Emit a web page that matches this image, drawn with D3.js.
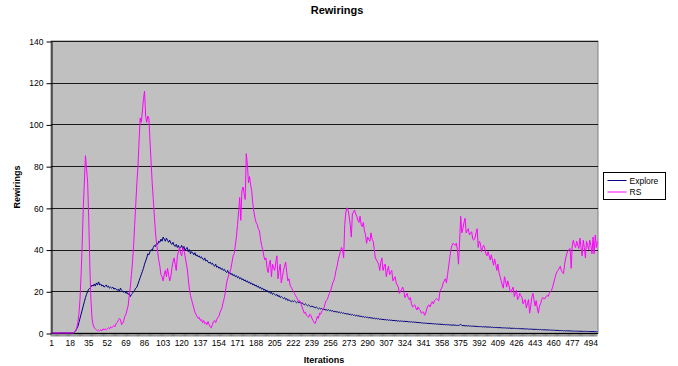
<!DOCTYPE html>
<html>
<head>
<meta charset="utf-8">
<script src="https://cdn.jsdelivr.net/npm/d3@7/dist/d3.min.js"></script>
<style>
  html, body { margin: 0; padding: 0; background: #ffffff; }
  svg { display: block; }
  text { font-family: "Liberation Sans", Arial, sans-serif; fill: #000; }
</style>
</head>
<body>
<svg id="chart" width="678" height="366"></svg>
<script>
// Iteration numbers along the category axis
const iterations = d3.range(1, 501);
// Iterations that carry a printed label
const tickLabels = [1, 18, 35, 52, 69, 86, 103, 120, 137, 154, 171, 188, 205, 222, 239, 256, 273,
  290, 307, 324, 341, 358, 375, 392, 409, 426, 443, 460, 477, 494];
const yTicks = [0, 20, 40, 60, 80, 100, 120, 140];
const seriesNames = ["Explore", "RS"];

// Rewirings per iteration, Explore strategy
const explore = [
  0,0,0,0,0,0,0,0,0,0,
  0,0,0,0,0,0,0,0,0,0,
  0,0.5,1,2,3,5,7,9,11,13,
  15,17,18.5,20,21,21.5,22,23,22.5,23.5,
  22.5,24,23,24.5,23,23.5,22.5,23,22,22.5,
  23,22,22.5,21.5,22,21.5,22,21,21.5,21,
  20.5,21,20,21.5,20.5,20,19.5,20,19,19.5,
  18.5,19,17.5,18.5,19,20,20.5,21.5,22,23.5,
  25,26.5,28,29.5,31,33,34.5,36,38,37.5,
  39,40,39.5,41,42,41.5,43,42.5,44,43.5,
  45,44,46,45,44,45.5,44.5,43.5,44.5,43,
  42.5,43.5,42,41.5,42.5,41,42,40.5,41,42,
  40,41.5,39.5,40.5,41,39,40,38,39,38.5,
  37.5,38.5,37,37.5,36.5,37,36,36.5,35.5,35,
  36,34.5,35,34,33.5,34,33,33.5,32.5,32,
  33,31.5,32,31,31.5,30.5,31,30,30.5,29.5,
  29,30,28.5,29,28,28.5,27.5,28,27,27.5,
  26.5,27,26,26.5,25.5,26,25,25.5,24.5,25,
  24,24.5,23.5,24,23,23.5,22.5,23,22,22.5,
  21.5,22,21,21.5,20.5,21,20,20.5,19.5,20,
  19,19.5,18.5,19,18.5,18,18.5,17.5,18,17,
  17.5,17,16.5,17,16,16.5,15.5,16,15.5,15,
  15.5,15,15.5,15,14.5,15,14.5,14.8,14.2,14.5,
  14,13.5,14,13.5,13,13.5,13,12.5,13,12.5,
  12.5,12,12.5,12,11.5,12,11.5,11.8,11.2,11.5,
  11,11.3,10.8,11.2,10.7,11,10.4,10.7,10.2,10.5,
  10,10.3,9.8,10.1,9.6,9.9,9.4,9.7,9.2,9.4,
  9,9.3,8.8,9.1,8.6,8.9,8.4,8.7,8.2,8.5,
  8.1,8.3,7.9,8.1,7.7,7.9,7.5,7.8,7.4,7.6,
  7.2,7.5,7.1,7.3,6.9,7.2,6.8,7,6.7,6.9,
  6.5,6.8,6.4,6.6,6.3,6.5,6.2,6.4,6.1,6.3,
  6,6.2,5.9,6.1,5.8,6,5.7,5.9,5.6,5.8,
  5.6,5.7,5.5,5.7,5.4,5.6,5.3,5.5,5.2,5.4,
  5.2,5.3,5.1,5.2,5,5.1,4.9,5,4.8,4.9,
  4.7,4.8,4.6,4.7,4.5,4.7,4.4,4.6,4.4,4.5,
  4.3,4.4,4.2,4.4,4.1,4.3,4.1,4.2,4,4.1,
  3.9,4.1,3.9,4,3.8,3.9,3.7,3.9,3.7,3.8,
  3.6,3.7,3.6,3.8,4.2,3.6,3.5,3.6,3.4,3.5,
  3.4,3.5,3.3,3.4,3.2,3.3,3.2,3.3,3.1,3.2,
  3,3.1,3,3.1,2.9,3,2.9,3,2.8,2.9,
  2.8,2.9,2.7,2.8,2.6,2.7,2.6,2.7,2.5,2.6,
  2.5,2.6,2.4,2.5,2.4,2.5,2.3,2.4,2.3,2.4,
  2.2,2.3,2.2,2.3,2.1,2.2,2.1,2.2,2,2.1,
  2,2.1,1.9,2,1.9,2,1.8,1.9,1.8,1.9,
  1.7,1.8,1.7,1.8,1.6,1.7,1.6,1.7,1.5,1.6,
  1.5,1.6,1.4,1.5,1.4,1.5,1.3,1.4,1.3,1.4,
  1.2,1.3,1.2,1.3,1.1,1.2,1.1,1.2,1,1.1,
  1,1.1,1,1.05,0.95,1,0.9,0.95,0.85,0.9,
  0.85,0.9,0.8,0.85,0.8,0.85,0.75,0.8,0.75,0.8,
  0.7,0.75,0.7,0.75,0.65,0.7,0.65,0.7,0.6,0.65
];

// Rewirings per iteration, RS strategy
const rs = [
  0,0,0,0,0,0,0,0,0,0,
  0,0,0,0,0,0,0,0,0,0,
  0,0.5,1,2.5,5,9,16,28,42,60,
  72,85,79,72,55,32,16,7,4,2.5,
  2,1.5,1,1.5,1,1.5,1,2,1.5,2,
  1.5,2,2.5,2,3,2.5,3,3.5,3,4.5,
  5,6,7,6.5,4,4.5,6,8,9,11,
  13,18,22,28,34,42,52,62,72,80,
  92,103,101,106,112,116,104,101,104,103,
  92,82,72,64,56,48,43,39,35,32,
  28,27,25,28,30,27,31,28,25,27,
  31,34,36,33,30,37,39,41,38,37,
  41,40,37,34,31,26,21,18,16,14,
  12,10,9,8,7,7.5,6,6.5,5,6,
  4.5,5,4,5.5,4,3,2.5,4,5.5,6,
  5,6.5,7.5,8,10,11,12.5,15,17,20,
  24,26,28,29,31,34,37,38,42,46,
  52,58,65,54,68,70,67,64,86,81,
  72,75,71,68,62,58,55,53,52,50,
  49,45,42,40,37,35,36,31,29,33,
  35,27,33,31,30,34,37,26,30,33,
  24,27,30,32,34,29,25,26,23,22,
  21,20,19,18,17,16,15,15.5,14,12.5,
  11,9.5,10,8.5,8,7.5,9,8.5,7,6,
  5,4.5,6,8,7,9.5,9,10.5,11,12,
  14,15.5,16,17.5,19,20,22,24,25,27,
  30,32,35,37,39,41,40,36,52,58,
  60,59,56,52,46,57,58,59,57,56,
  54,53,56,52,51,53,49,47,43,46,
  45,44,48,45,44,40,36,35,34,33,
  30,34,36,30,32,33,27,30,32,28,
  29,30,25,26,27,24,23,22,19,20,
  21,22,20,17,18,19,17,16,17,14,
  12.5,13,13.5,12,11,12.5,11.5,11,9.5,10,
  10,8.5,9.5,11.5,13,13.5,12.5,14,15,14,
  15.5,16,16.5,16,15.5,20,21,22,24,25,
  26,24,28,32,36,40,42,43,42.5,42,
  43,40,33,44,56,48,50,53,55,48,
  49,50,47,48,48.5,45,44.5,45.5,48,50,
  41,44,43,39,41,42,40.5,38,37,39,
  37,35,37.5,35,32.5,35.5,33,30,33,29,
  27,25,23,21.5,27,25,22,25,23,20.5,
  19.5,21,22,17.5,19,20.5,16,17,19,18,
  17,14,15,16,12,14,16,9.5,13,17,
  19,16,13,15.5,12,9.5,13,14,16,17,
  16.5,16.5,17.5,18,17.5,19,20,20.5,22,24,
  26,28,29.5,30,31,32,30,29,28.5,33,
  36,38,39.5,40,40.5,31,42,44.5,42,41,
  44,42,40.5,45.5,41,37,44.5,41,36,44,
  42,40,44.5,42,38,46,38,47,41,44
];

const svg = d3.select("#chart");
const plot = { left: 51, right: 598, top: 41, bottom: 333 };

const x = d3.scaleBand().domain(iterations).range([plot.left, plot.right]).padding(0);
const y = d3.scaleLinear().domain([0, 140]).range([plot.bottom, plot.top]);
const color = d3.scaleOrdinal().domain(seriesNames).range(["#000080", "#ff00ff"]);

// Plot area background
svg.append("rect")
  .attr("x", plot.left).attr("y", plot.top)
  .attr("width", plot.right - plot.left).attr("height", plot.bottom - plot.top)
  .attr("fill", "#c0c0c0").attr("stroke", "#808080").attr("stroke-width", 1);

// Horizontal gridlines
svg.append("g")
  .selectAll("line")
  .data(yTicks.filter(d => d > 0))
  .join("line")
  .attr("x1", plot.left).attr("x2", plot.right)
  .attr("y1", d => Math.round(y(d)) + 0.5).attr("y2", d => Math.round(y(d)) + 0.5)
  .attr("stroke", "#1a1a1a").attr("stroke-width", 1);

// Value axis
const yAxis = svg.append("g")
  .attr("transform", `translate(${plot.left + 0.5},0.5)`)
  .call(d3.axisLeft(y).tickValues(yTicks).tickSize(5).tickPadding(3).tickSizeOuter(0));
yAxis.select(".domain").attr("stroke", "#000");
yAxis.selectAll(".tick line").attr("stroke", "#000");
yAxis.selectAll("text")
  .attr("font-family", "Liberation Sans, Arial, sans-serif")
  .attr("font-size", 8.5).attr("fill", "#000");

// Category axis: a tick at every category boundary, labels on every 17th iteration
const xTicks = svg.append("g").attr("transform", `translate(0,${plot.bottom})`);
xTicks.selectAll("line")
  .data(iterations)
  .join("line")
  .attr("x1", d => x(d)).attr("x2", d => x(d))
  .attr("y1", 0).attr("y2", 3.5)
  .attr("stroke", "#000").attr("stroke-width", 0.5);
xTicks.append("line")
  .attr("x1", plot.left).attr("x2", plot.right)
  .attr("y1", 0.5).attr("y2", 0.5)
  .attr("stroke", "#000");

const xAxis = svg.append("g")
  .attr("transform", `translate(0,${plot.bottom})`)
  .call(d3.axisBottom(x).tickValues(tickLabels).tickSize(0).tickPadding(7));
xAxis.select(".domain").remove();
xAxis.selectAll("text")
  .attr("font-family", "Liberation Sans, Arial, sans-serif")
  .attr("font-size", 8.5).attr("fill", "#000");

// Series lines
const line = d3.line()
  .x((d, i) => x(iterations[i]) + x.bandwidth() / 2)
  .y(d => y(d));

const series = [
  { name: "Explore", values: explore },
  { name: "RS", values: rs }
];

svg.append("g")
  .selectAll("path")
  .data(series)
  .join("path")
  .attr("d", d => line(d.values))
  .attr("fill", "none")
  .attr("stroke", d => color(d.name))
  .attr("stroke-width", 1)
  .attr("stroke-linejoin", "round");

// Titles
svg.append("text")
  .attr("x", 337).attr("y", 14)
  .attr("text-anchor", "middle")
  .attr("font-size", 11).attr("font-weight", "bold")
  .text("Rewirings");

svg.append("text")
  .attr("x", 324).attr("y", 363)
  .attr("text-anchor", "middle")
  .attr("font-size", 9).attr("font-weight", "bold")
  .text("Iterations");

svg.append("text")
  .attr("transform", "translate(20,187) rotate(-90)")
  .attr("text-anchor", "middle")
  .attr("font-size", 9).attr("font-weight", "bold")
  .text("Rewirings");

// Legend
const legend = svg.append("g").attr("transform", "translate(603.5,172.5)");
legend.append("rect")
  .attr("width", 62).attr("height", 27)
  .attr("fill", "#ffffff").attr("stroke", "#000").attr("stroke-width", 1);
const entry = legend.selectAll("g.entry")
  .data(seriesNames)
  .join("g")
  .attr("class", "entry")
  .attr("transform", (d, i) => `translate(0,${8 + i * 11.5})`);
entry.append("line")
  .attr("x1", 4).attr("x2", 23)
  .attr("stroke", d => color(d)).attr("stroke-width", 1);
entry.append("text")
  .attr("x", 26).attr("y", 3)
  .attr("font-size", 8.5)
  .text(d => d);
</script>
</body>
</html>
